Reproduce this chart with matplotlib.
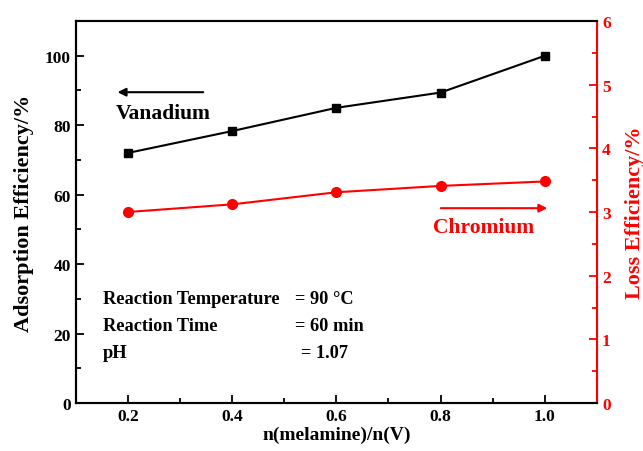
import matplotlib
matplotlib.use('Agg')
import matplotlib.pyplot as plt
from matplotlib.ticker import MultipleLocator

# ratio n(melamine)/n(V)
ratio = [0.2, 0.4, 0.6, 0.8, 1.0]
# adsorption efficiency of vanadium (%)
vanadium = [72.0, 78.3, 85.0, 89.4, 100.0]
# loss efficiency of chromium (%)
chromium = [3.0, 3.12, 3.31, 3.41, 3.48]

x_ticks = [0.2, 0.4, 0.6, 0.8, 1.0]
x_tick_labels = ['0.2', '0.4', '0.6', '0.8', '1.0']

plt.rcParams['font.family'] = ['Liberation Serif', 'DejaVu Serif']
plt.rcParams['font.weight'] = 'bold'

fig = plt.figure(figsize=(6.43, 4.52), dpi=100)
ax = fig.add_axes([0.1177, 0.1062, 0.8108, 0.8451])
ax2 = ax.twinx()

ax.plot(ratio, vanadium, color='black', marker='s', markersize=6, linewidth=1.5)
ax2.plot(ratio, chromium, color='red', marker='o', markersize=7, linewidth=1.5)

ax.set_xlim(0.1, 1.1)
ax.set_ylim(0, 110)
ax2.set_ylim(0, 6)

ax.set_xticks(x_ticks)
ax.set_xticklabels(x_tick_labels)
ax.xaxis.set_minor_locator(MultipleLocator(0.1))
ax.yaxis.set_major_locator(MultipleLocator(20))
ax.yaxis.set_minor_locator(MultipleLocator(10))
ax2.yaxis.set_major_locator(MultipleLocator(1))
ax2.yaxis.set_minor_locator(MultipleLocator(0.5))

ax.tick_params(axis='both', which='both', direction='in', top=False, right=False,
               labelsize=12.5, width=1.3)
ax.tick_params(which='major', length=6)
ax.tick_params(which='minor', length=3.5)
ax2.tick_params(axis='y', which='both', direction='in', colors='red',
                labelsize=12.5, width=1.3)
ax2.tick_params(which='major', length=6)
ax2.tick_params(which='minor', length=3.5)

for sp in ['left', 'bottom', 'top']:
    ax.spines[sp].set_linewidth(1.5)
    ax2.spines[sp].set_linewidth(1.5)
ax2.spines['right'].set_color('red')
ax2.spines['right'].set_linewidth(1.5)

ax.set_xlabel('n(melamine)/n(V)', fontsize=14, fontweight='bold', labelpad=1)
ax.set_ylabel('Adsorption Efficiency/%', fontsize=16, fontweight='bold', labelpad=8)
ax2.set_ylabel('Loss Efficiency/%', fontsize=16, fontweight='bold', color='red', labelpad=10)

# arrows and labels
ax.annotate('', xy=(0.175, 89.5), xytext=(0.35, 89.5),
            arrowprops=dict(arrowstyle='-|>', color='black', lw=1.5, mutation_scale=12))
ax.text(0.268, 83.5, 'Vanadium', fontsize=15.5, fontweight='bold', ha='center', va='center')
ax.annotate('', xy=(1.01, 56.1), xytext=(0.795, 56.1),
            arrowprops=dict(arrowstyle='-|>', color='red', lw=1.5, mutation_scale=12))
ax.text(0.883, 50.6, 'Chromium', fontsize=15.5, fontweight='bold', color='red',
        ha='center', va='center')

# reaction conditions
ax.text(0.152, 30.2, 'Reaction Temperature', fontsize=13.2, fontweight='bold', va='center')
ax.text(0.52, 30.2, '= 90 \u00b0C', fontsize=13.2, fontweight='bold', va='center')
ax.text(0.152, 22.2, 'Reaction Time', fontsize=13.2, fontweight='bold', va='center')
ax.text(0.52, 22.2, '= 60 min', fontsize=13.2, fontweight='bold', va='center')
ax.text(0.152, 14.4, 'pH', fontsize=13.2, fontweight='bold', va='center')
ax.text(0.533, 14.4, '= 1.07', fontsize=13.2, fontweight='bold', va='center')

plt.savefig('out.png', dpi=100)
